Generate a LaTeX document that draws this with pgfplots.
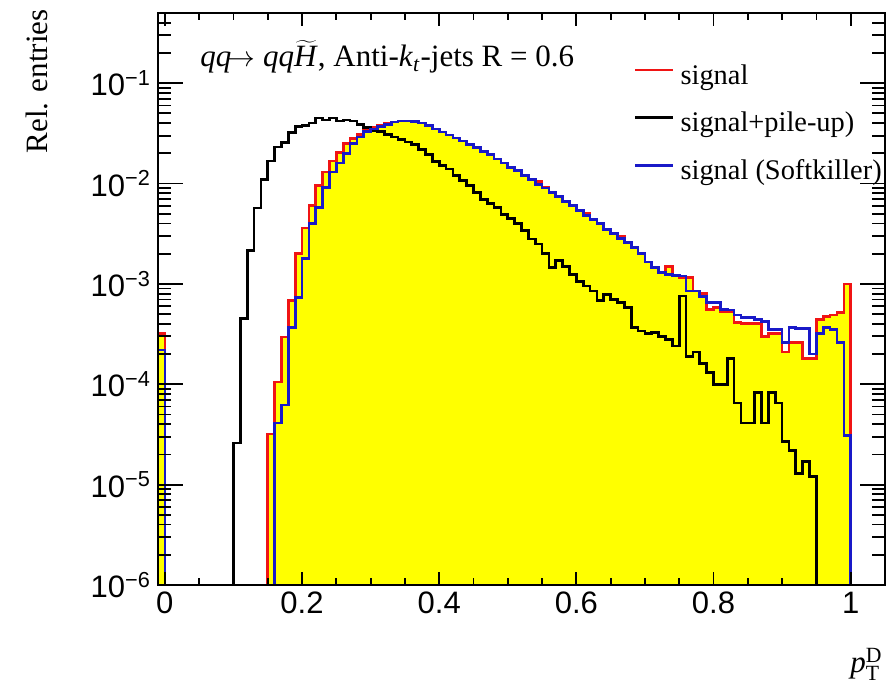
\documentclass[border=0pt]{standalone}
\usepackage{pgfplots}
\pgfplotsset{compat=1.18}
\usepackage{pgfplotstable}
\usepackage{fontspec}
\setmainfont{Liberation Serif}
\setsansfont{Liberation Sans}

\newcommand{\fs}{\fontsize{14.5}{17}\selectfont}
\newcommand{\lfs}{\fontsize{14.2}{17}\selectfont}
\newcommand{\hfs}{\fontsize{15.5}{18}\selectfont}
\newcommand{\tfs}{\sffamily\fontsize{15.5}{17}\selectfont}
\definecolor{sigred}{RGB}{240,20,20}
\definecolor{skblue}{RGB}{25,25,200}
\definecolor{histyellow}{RGB}{255,255,0}

% signal (red, filled yellow); x = left bin edge
\pgfplotstableread{
x y
-0.01 1e-9
-0.01 3.2e-4
0.00 1e-9
0.15 3.2e-5
0.16 1.05e-4
0.17 2.95e-4
0.18 6.8e-4
0.19 2.0e-3
0.20 3.6e-3
0.21 6.0e-3
0.22 9.5e-3
0.23 1.3e-2
0.24 1.68e-2
0.25 2.04e-2
0.26 2.5e-2
0.27 2.8e-2
0.28 3.1e-2
0.29 3.4e-2
0.30 3.6e-2
0.31 3.8e-2
0.32 4.0e-2
0.33 4.1e-2
0.34 4.2e-2
0.35 4.2e-2
0.36 4.15e-2
0.37 4.0e-2
0.38 3.8e-2
0.39 3.5e-2
0.40 3.25e-2
0.41 3.05e-2
0.42 2.85e-2
0.43 2.65e-2
0.44 2.45e-2
0.45 2.28e-2
0.46 2.1e-2
0.47 1.95e-2
0.48 1.75e-2
0.49 1.6e-2
0.50 1.45e-2
0.51 1.35e-2
0.52 1.22e-2
0.53 1.1e-2
0.54 1.05e-2
0.55 9.1e-3
0.56 8.2e-3
0.57 7.5e-3
0.58 6.7e-3
0.59 6.0e-3
0.60 5.4e-3
0.61 5.1e-3
0.62 4.4e-3
0.63 4.0e-3
0.64 3.5e-3
0.65 3.2e-3
0.66 3.0e-3
0.67 2.6e-3
0.68 2.3e-3
0.69 2.0e-3
0.70 1.65e-3
0.71 1.45e-3
0.72 1.3e-3
0.73 1.5e-3
0.74 1.2e-3
0.75 1.15e-3
0.76 1.15e-3
0.77 8.5e-4
0.78 8.0e-4
0.79 5.6e-4
0.80 5.8e-4
0.81 5.3e-4
0.82 5.3e-4
0.83 4.1e-4
0.84 4.0e-4
0.85 4.0e-4
0.86 4.0e-4
0.87 3.0e-4
0.88 3.2e-4
0.89 3.2e-4
0.90 2.1e-4
0.91 2.6e-4
0.92 2.6e-4
0.93 1.8e-4
0.94 1.8e-4
0.95 4.4e-4
0.96 4.7e-4
0.97 4.9e-4
0.98 5.2e-4
0.99 1.0e-3
1.00 1e-9
}\sigtab

% signal + pile-up (black)
\pgfplotstableread{
x y
-0.01 1e-9
0.10 2.6e-5
0.11 4.5e-4
0.12 2.15e-3
0.13 5.7e-3
0.14 1.09e-2
0.15 1.68e-2
0.16 2.31e-2
0.17 2.55e-2
0.18 3.2e-2
0.19 3.7e-2
0.20 3.8e-2
0.21 4.0e-2
0.22 4.5e-2
0.23 4.3e-2
0.24 4.5e-2
0.25 4.2e-2
0.26 4.3e-2
0.27 4.2e-2
0.28 3.9e-2
0.29 3.6e-2
0.30 3.4e-2
0.31 3.3e-2
0.32 3.1e-2
0.33 2.9e-2
0.34 2.75e-2
0.35 2.6e-2
0.36 2.45e-2
0.37 2.2e-2
0.38 1.95e-2
0.39 1.65e-2
0.40 1.5e-2
0.41 1.4e-2
0.42 1.2e-2
0.43 1.07e-2
0.44 9.5e-3
0.45 8.2e-3
0.46 6.9e-3
0.47 6.3e-3
0.48 5.8e-3
0.49 4.9e-3
0.50 4.5e-3
0.51 4.0e-3
0.52 3.4e-3
0.53 2.8e-3
0.54 2.5e-3
0.55 2.0e-3
0.56 1.45e-3
0.57 1.7e-3
0.58 1.5e-3
0.59 1.25e-3
0.60 1.05e-3
0.61 9.5e-4
0.62 8.5e-4
0.63 6.8e-4
0.64 7.9e-4
0.65 7.0e-4
0.66 6.5e-4
0.67 5.8e-4
0.68 3.7e-4
0.69 3.4e-4
0.70 3.2e-4
0.71 3.3e-4
0.72 3.0e-4
0.73 2.8e-4
0.74 2.4e-4
0.75 7.6e-4
0.76 1.9e-4
0.77 2.1e-4
0.78 1.6e-4
0.79 1.3e-4
0.80 1.0e-4
0.81 1.0e-4
0.82 1.8e-4
0.83 6.5e-5
0.84 4.1e-5
0.85 4.1e-5
0.86 8.3e-5
0.87 4.1e-5
0.88 8.3e-5
0.89 6.5e-5
0.90 2.7e-5
0.91 2.2e-5
0.92 1.3e-5
0.93 1.7e-5
0.94 1.2e-5
0.95 1e-9
}\putab

% signal (Softkiller) (blue)
\pgfplotstableread{
x y
-0.01 1e-9
-0.01 2.2e-4
0.00 1e-9
0.16 4.1e-5
0.17 6.2e-5
0.18 3.7e-4
0.19 7.3e-4
0.20 1.8e-3
0.21 4.0e-3
0.22 5.8e-3
0.23 9.1e-3
0.24 1.3e-2
0.25 1.6e-2
0.26 2.0e-2
0.27 2.5e-2
0.28 2.9e-2
0.29 3.3e-2
0.30 3.5e-2
0.31 3.7e-2
0.32 3.9e-2
0.33 4.1e-2
0.34 4.2e-2
0.35 4.2e-2
0.36 4.15e-2
0.37 4.0e-2
0.38 3.8e-2
0.39 3.5e-2
0.40 3.25e-2
0.41 3.05e-2
0.42 2.85e-2
0.43 2.65e-2
0.44 2.45e-2
0.45 2.28e-2
0.46 2.1e-2
0.47 1.95e-2
0.48 1.75e-2
0.49 1.6e-2
0.50 1.45e-2
0.51 1.35e-2
0.52 1.2e-2
0.53 1.1e-2
0.54 9.8e-3
0.55 9.0e-3
0.56 8.2e-3
0.57 7.4e-3
0.58 6.6e-3
0.59 6.0e-3
0.60 5.4e-3
0.61 4.8e-3
0.62 4.4e-3
0.63 4.0e-3
0.64 3.5e-3
0.65 3.2e-3
0.66 2.85e-3
0.67 2.6e-3
0.68 2.3e-3
0.69 2.0e-3
0.70 1.65e-3
0.71 1.45e-3
0.72 1.3e-3
0.73 1.25e-3
0.74 1.22e-3
0.75 1.2e-3
0.76 8.5e-4
0.77 8.5e-4
0.78 7.5e-4
0.79 6.5e-4
0.80 6.5e-4
0.81 5.6e-4
0.82 5.5e-4
0.83 4.9e-4
0.84 4.6e-4
0.85 4.6e-4
0.86 4.4e-4
0.87 4.2e-4
0.88 3.5e-4
0.89 3.5e-4
0.90 2.6e-4
0.91 3.7e-4
0.92 3.6e-4
0.93 3.6e-4
0.94 2.0e-4
0.95 3.2e-4
0.96 3.7e-4
0.97 3.5e-4
0.98 2.6e-4
0.99 3.1e-5
1.00 1e-9
}\sktab

\begin{document}
\begin{tikzpicture}
\begin{axis}[
  name=ax,
  scale only axis, width=363.5pt, height=286pt,
  xmin=-0.01, xmax=1.05,
  ymode=log, ymin=1e-6, ymax=0.5,
  axis on top,
  axis line style={line width=1pt},
  xtick={0,0.2,0.4,0.6,0.8,1},
  xticklabels={0,0.2,0.4,0.6,0.8,1},
  minor x tick num=3,
  ytick=\empty, yminorticks=false,
  major tick length=6.5pt, minor tick length=3.5pt,
  tick style={line width=0.9pt, black},
  xticklabel style={font=\tfs},
  legend cell align=left,
  legend style={at={(rel axis cs:0.654,0.914)}, anchor=north west,
    draw=none, fill=none, font=\lfs, row sep=10.5pt, column sep=2pt,
    inner sep=0pt, nodes={inner sep=1pt}},
  legend image code/.code={\draw[#1] (0pt,0.3em) -- (19pt,0.3em);},
]
\addplot[fill=histyellow, draw=none, const plot, forget plot] table[x=x,y=y] {\sigtab};
\addplot[sigred, line width=1.35pt, const plot] table[x=x,y=y] {\sigtab};
\addlegendentry{signal}
\addplot[black, line width=1.35pt, const plot] table[x=x,y=y] {\putab};
\addlegendentry{signal+pile-up)}
\addplot[skblue, line width=1.35pt, const plot] table[x=x,y=y] {\sktab};
\addlegendentry{signal (Softkiller)}
\node[anchor=base west, font=\hfs, inner sep=0pt] at (rel axis cs:0.0578,0.906)
  {\textit{qq}$\!\rightarrow$ \textit{qq}$\widetilde{\mbox{\textit{H}}}$, Anti-\textit{k}\textsubscript{\textit{t}}-jets R = 0.6};
\end{axis}
\begin{axis}[
  at={(ax.south west)}, anchor=south west,
  scale only axis, width=363.5pt, height=286pt,
  xmin=-0.01, xmax=1.05,
  ymode=log, ymin=1e-6, ymax=0.5,
  axis on top,
  axis line style={line width=1pt},
  xtick=\empty, xminorticks=false,
  ytick={1e-6,1e-5,1e-4,1e-3,1e-2,1e-1},
  yticklabels={10\textsuperscript{−6},10\textsuperscript{−5},10\textsuperscript{−4},10\textsuperscript{−3},10\textsuperscript{−2},10\textsuperscript{−1}},
  minor ytick={2e-6,3e-6,4e-6,5e-6,6e-6,7e-6,8e-6,9e-6,
               2e-5,3e-5,4e-5,5e-5,6e-5,7e-5,8e-5,9e-5,
               2e-4,3e-4,4e-4,5e-4,6e-4,7e-4,8e-4,9e-4,
               2e-3,3e-3,4e-3,5e-3,6e-3,7e-3,8e-3,9e-3,
               2e-2,3e-2,4e-2,5e-2,6e-2,7e-2,8e-2,9e-2,
               2e-1,3e-1,4e-1},
  major tick length=12.5pt, minor tick length=6.5pt,
  tick style={line width=0.9pt, black},
  yticklabel style={font=\tfs},
]
\end{axis}
\node[rotate=90, anchor=north east, font=\hfs, inner sep=0pt]
  at ([xshift=-66pt,yshift=2pt]ax.north west) {Rel. entries};
\node[anchor=base east, font=\hfs, inner sep=0pt]
  at ([xshift=-1pt,yshift=-44pt]ax.south east) {\textit{p}$^{\mathrm{D}}_{\mathrm{T}}$};
\pgfresetboundingbox
\path[use as bounding box] ([xshift=-79pt,yshift=-51pt]ax.south west) rectangle ([xshift=5pt,yshift=6.5pt]ax.north east);
\end{tikzpicture}
\end{document}
